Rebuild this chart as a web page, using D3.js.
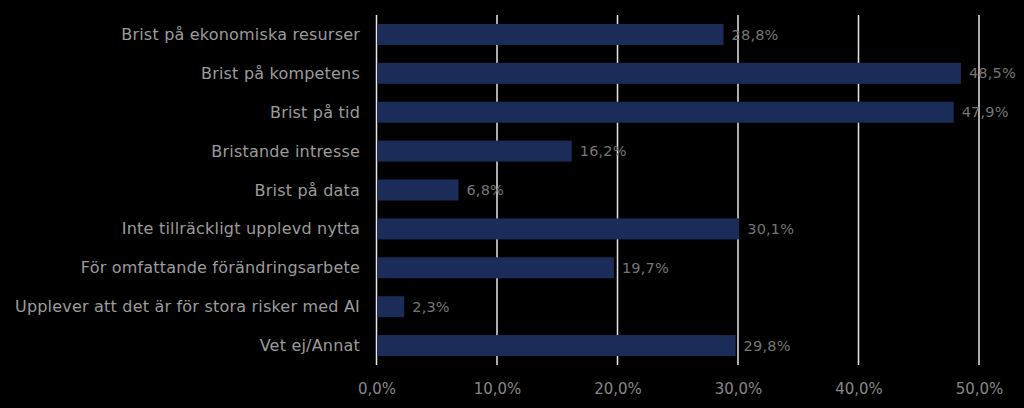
<!DOCTYPE html>
<html><head><meta charset="utf-8">
<script src="https://cdn.jsdelivr.net/npm/d3@7"></script>
<style>html,body{margin:0;padding:0;background:#000;}svg{display:block;}</style>
</head><body>
<script>
const categories = ["Brist på ekonomiska resurser","Brist på kompetens","Brist på tid","Bristande intresse","Brist på data","Inte tillräckligt upplevd nytta","För omfattande förändringsarbete","Upplever att det är för stora risker med AI","Vet ej/Annat"];
const values = [28.8, 48.5, 47.9, 16.2, 6.8, 30.1, 19.7, 2.3, 29.8];
const tickValues = [0, 10, 20, 30, 40, 50];

const W = 1024, H = 408;
const font = "'DejaVu Sans', sans-serif";
const svg = d3.select("body").append("svg").attr("width", W).attr("height", H).style("background", "#000");
const x = d3.scaleLinear().domain([0, 50]).range([376.5, 979]);
const y = d3.scaleBand().domain(categories).range([15, 365]).paddingInner(0.46).paddingOuter(0.23);
const fmt = v => v.toFixed(1).replace(".", ",") + "%";

// gridlines
svg.append("g").selectAll("line").data(tickValues).join("line")
  .attr("x1", d => x(d)).attr("x2", d => x(d)).attr("y1", 15).attr("y2", 365)
  .attr("stroke", "#e6e6e6").attr("stroke-width", 1.5);

// bars
svg.append("g").selectAll("rect").data(values).join("rect")
  .attr("x", x(0) + 1).attr("y", (d, i) => y(categories[i]))
  .attr("width", d => x(d) - x(0) - 1).attr("height", y.bandwidth())
  .attr("fill", "#1b2c58");

// value labels
svg.append("g").selectAll("text").data(values).join("text")
  .attr("x", d => x(d) + 8).attr("y", (d, i) => y(categories[i]) + y.bandwidth() / 2)
  .attr("dy", "0.35em").attr("fill", "#767676").style("font-family", font).style("font-size", "14.5px")
  .style("letter-spacing", "0.2px").text(fmt);

// category axis labels
svg.append("g").selectAll("text").data(categories).join("text")
  .attr("x", 360).attr("y", d => y(d) + y.bandwidth() / 2)
  .attr("dy", "0.35em").attr("text-anchor", "end").attr("fill", "#9c9c9c")
  .style("font-family", font).style("font-size", "16px").style("letter-spacing", "0.2px").text(d => d);

// x axis
const xAxis = d3.axisBottom(x).tickValues(tickValues).tickSize(0).tickPadding(0).tickFormat(d => fmt(d));
const ax = svg.append("g").attr("transform", "translate(0,384)").call(xAxis);
ax.select(".domain").remove();
ax.selectAll("text").attr("fill", "#878787").style("font-family", font).style("font-size", "15px").attr("dy", "0.35em").attr("y", 5);
</script>
</body></html>
